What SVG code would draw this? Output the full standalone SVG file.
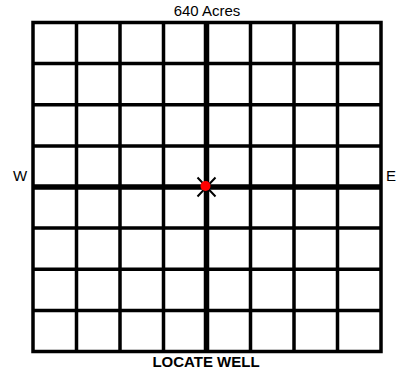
<svg xmlns="http://www.w3.org/2000/svg" width="401" height="372" viewBox="0 0 401 372">
<style>
.g{stroke:#000;stroke-width:3.5;fill:none}
.c{stroke:#000;stroke-width:5.5;fill:none}
.t{font-family:"Liberation Sans",Arial,sans-serif;font-size:15px;fill:#000}
.b{font-weight:bold}
</style>
<rect width="401" height="372" fill="#fff"/>
<g id="grid">
<path class="g" d="M76.5 22.5V351.5M120 22.5V351.5M163.5 22.5V351.5M250.5 22.5V351.5M294 22.5V351.5M337.5 22.5V351.5M33 63.6H381M33 104.75H381M33 145.9H381M33 228.1H381M33 269.25H381M33 310.4H381"/>
<rect class="g" x="33" y="22.5" width="348" height="329"/>
<path class="c" d="M206.5 22.5V351.5M33 187H381"/>
</g>
<g id="well">
<path d="M197.5 177.5L215.5 196.5M215.5 177.5L197.5 196.5" stroke="#000" stroke-width="2"/>
<circle cx="205.5" cy="186" r="5" fill="#f00"/>
</g>
<g id="labels">
<text class="t" x="207" y="16" text-anchor="middle">640 Acres</text>
<text class="t" x="13" y="181">W</text>
<text class="t" x="386" y="181">E</text>
<text class="t b" x="206" y="367" text-anchor="middle">LOCATE WELL</text>
</g>
</svg>
